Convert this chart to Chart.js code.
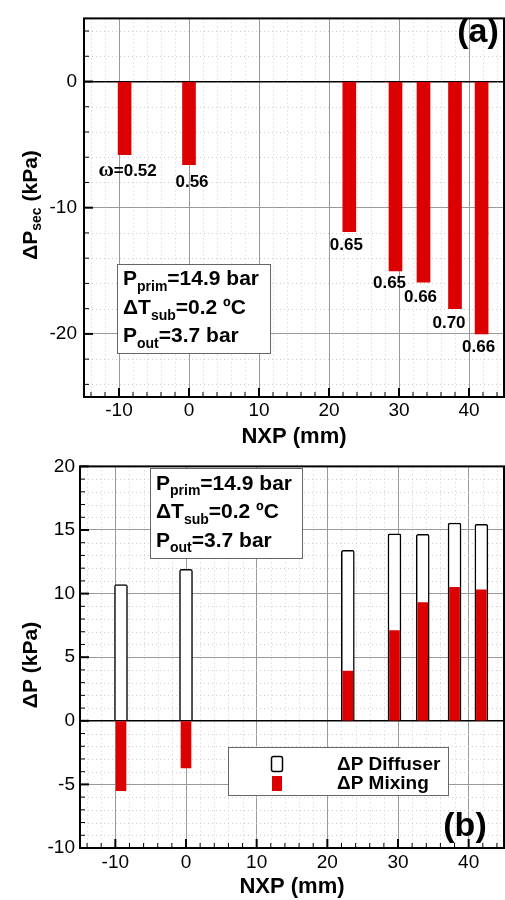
<!DOCTYPE html>
<html>
<head>
<meta charset="utf-8">
<script src="https://cdn.jsdelivr.net/npm/chart.js"></script>
<style>
  html, body { margin: 0; padding: 0; background: #fff; }
  .panel { position: relative; width: 505px; height: 450px; }
</style>
</head>
<body>
<div class="panel"><canvas id="chartA"></canvas></div>
<div class="panel"><canvas id="chartB"></canvas></div>
<script>
// nozzle exit position of each test (mm)
const nxp = [-9.2, 0, 22.9, 29.5, 33.5, 38, 41.8];
// (a) suction pressure drop, kPa
const dpSec = [-5.8, -6.6, -11.9, -15.0, -15.9, -18.0, -20.0];
// entrainment ratio written under each bar
const omega = [0.52, 0.56, 0.65, 0.65, 0.66, 0.70, 0.66];
// (b) pressure lift split in diffuser and mixing section, kPa
const dpDiffuser = [10.7, 11.9, 13.4, 14.7, 14.65, 15.55, 15.45];
const dpMixing = [-5.5, -3.7, 3.9, 7.1, 9.3, 10.5, 10.3];

const xTicks = [-10, 0, 10, 20, 30, 40];
const yTicksA = [-20, -10, 0];
const yTicksB = [-10, -5, 0, 5, 10, 15, 20];

// operating conditions: [symbol, subscript, rest]
const conditions = [
  ['P', 'prim', '=14.9 bar'],
  ['\u0394T', 'sub', '=0.2 \u00baC'],
  ['P', 'out', '=3.7 bar']
];

const FONT = '"Liberation Sans", Arial, Helvetica, sans-serif';
const RED = '#dd0000';

// draw text made of parts [{t, size, dy}] starting at x
function drawParts(ctx, parts, x, y) {
  parts.forEach(p => {
    ctx.font = `bold ${p.size}px ${FONT}`;
    ctx.fillText(p.t, x, y + (p.dy || 0));
    x += ctx.measureText(p.t).width;
  });
}

function partsWidth(ctx, parts) {
  let w = 0;
  parts.forEach(p => {
    ctx.font = `bold ${p.size}px ${FONT}`;
    w += ctx.measureText(p.t).width;
  });
  return w;
}

function subParts(main, sub, rest, size) {
  return [
    { t: main, size },
    { t: sub, size: Math.round(size * 0.65), dy: size * 0.28 },
    { t: rest, size }
  ];
}

function drawConditions(ctx, box, size) {
  ctx.save();
  ctx.fillStyle = '#fff';
  ctx.fillRect(box.x, box.y, box.w, box.h);
  ctx.strokeStyle = '#666';
  ctx.lineWidth = 1;
  ctx.strokeRect(box.x + 0.5, box.y + 0.5, box.w, box.h);
  ctx.fillStyle = '#000';
  ctx.textBaseline = 'alphabetic';
  ctx.textAlign = 'left';
  conditions.forEach((row, i) => {
    drawParts(ctx, subParts(row[0], row[1], row[2], size), box.x + 6, box.y + box.h * 0.24 + i * 28.5);
  });
  ctx.restore();
}

function drawYTitle(ctx, parts, cx, cy) {
  ctx.save();
  ctx.translate(cx, cy);
  ctx.rotate(-Math.PI / 2);
  ctx.fillStyle = '#000';
  ctx.textBaseline = 'middle';
  ctx.textAlign = 'left';
  drawParts(ctx, parts, -partsWidth(ctx, parts) / 2, 0);
  ctx.restore();
}

// minor dotted grid, inward tick marks and frame
const axisDecor = {
  id: 'axisDecor',
  beforeDatasetsDraw(chart, args, o) {
    const { ctx, chartArea: a, scales: { x, y } } = chart;
    ctx.save();
    ctx.strokeStyle = '#cfcfcf';
    ctx.lineWidth = 1;
    ctx.setLineDash([1, 3]);
    for (let v = Math.ceil(x.min / o.xMinor) * o.xMinor; v <= x.max; v += o.xMinor) {
      if (v % o.xMajor === 0) continue;
      const px = Math.round(x.getPixelForValue(v)) + 0.5;
      ctx.beginPath(); ctx.moveTo(px, a.top); ctx.lineTo(px, a.bottom); ctx.stroke();
    }
    for (let v = Math.ceil(y.min / o.yMinor) * o.yMinor; v <= y.max; v += o.yMinor) {
      if (v % o.yMajor === 0) continue;
      const py = Math.round(y.getPixelForValue(v)) + 0.5;
      ctx.beginPath(); ctx.moveTo(a.left, py); ctx.lineTo(a.right, py); ctx.stroke();
    }
    ctx.restore();
  },
  afterDatasetsDraw(chart, args, o) {
    const { ctx, chartArea: a, scales: { x, y } } = chart;
    ctx.save();
    ctx.strokeStyle = '#000';
    for (let v = Math.ceil(x.min / o.xMinor) * o.xMinor; v <= x.max; v += o.xMinor) {
      const major = v % o.xMajor === 0;
      const px = x.getPixelForValue(v);
      ctx.lineWidth = major ? 2 : 1;
      ctx.beginPath(); ctx.moveTo(px, a.bottom); ctx.lineTo(px, a.bottom - (major ? 9 : 5)); ctx.stroke();
    }
    for (let v = Math.ceil(y.min / o.yMinor) * o.yMinor; v <= y.max; v += o.yMinor) {
      const major = v % o.yMajor === 0;
      const py = y.getPixelForValue(v);
      ctx.lineWidth = major ? 2 : 1;
      ctx.beginPath(); ctx.moveTo(a.left, py); ctx.lineTo(a.left + (major ? 9 : 5), py); ctx.stroke();
    }
    ctx.lineWidth = 2;
    ctx.strokeRect(a.left, a.top, a.right - a.left, a.bottom - a.top);
    ctx.restore();
  }
};

function baseScales(yMin, yMax, yTicks, yWidth, xHeight, yPad, xPad) {
  const tickFont = { size: 19, family: FONT };
  return {
    x: {
      type: 'linear', min: -15, max: 45, offset: false,
      afterBuildTicks: s => { s.ticks = xTicks.map(v => ({ value: v })); },
      afterFit: s => { s.height = xHeight; },
      ticks: { font: tickFont, color: '#000', padding: xPad, maxRotation: 0 },
      grid: { color: '#9a9a9a', lineWidth: 1, drawTicks: false, offset: false },
      border: { display: false },
      title: { display: true, text: 'NXP (mm)', color: '#000', padding: 0,
               font: { size: 22, weight: 'bold', family: FONT } }
    },
    y: {
      min: yMin, max: yMax,
      afterBuildTicks: s => { s.ticks = yTicks.map(v => ({ value: v })); },
      afterFit: s => { s.width = yWidth; },
      ticks: { font: tickFont, color: '#000', padding: yPad },
      grid: {
        color: c => (c.tick && c.tick.value === 0 ? '#000' : '#9a9a9a'),
        lineWidth: c => (c.tick && c.tick.value === 0 ? 1.5 : 1),
        drawTicks: false
      },
      border: { display: false }
    }
  };
}

// panel (a) texts
const panelA = {
  id: 'panelA',
  afterDraw(chart) {
    const { ctx } = chart;
    const meta = chart.getDatasetMeta(0);
    // [dx, dy] of each omega label from the bar end
    const shift = [[3, 17], [3, 18], [-3, 14], [-6, 13], [-3, 15], [-6, 15], [-3, 13]];
    ctx.save();
    ctx.fillStyle = '#000';
    ctx.textBaseline = 'middle';
    meta.data.forEach((bar, i) => {
      const txt = omega[i].toFixed(2);
      const cx = bar.x + shift[i][0];
      const cy = bar.y + shift[i][1];
      if (i === 0) {
        ctx.font = `bold 17px ${FONT}`;
        const rest = '=' + txt;
        const wr = ctx.measureText(rest).width;
        ctx.font = `bold 21px "Liberation Serif", "DejaVu Serif", serif`;
        const wo = ctx.measureText('\u03c9').width;
        const x0 = cx - (wr + wo) / 2;
        ctx.textAlign = 'left';
        ctx.fillText('\u03c9', x0, cy - 1);
        ctx.font = `bold 17px ${FONT}`;
        ctx.fillText(rest, x0 + wo, cy);
      } else {
        ctx.font = `bold 17px ${FONT}`;
        ctx.textAlign = 'center';
        ctx.fillText(txt, cx, cy);
      }
    });
    ctx.font = `bold 34px ${FONT}`;
    ctx.textAlign = 'center';
    ctx.fillText('(a)', 478, 33);
    ctx.restore();
    drawConditions(ctx, { x: 117, y: 264, w: 153, h: 89 }, 21);
    drawYTitle(ctx, subParts('\u0394P', 'sec', ' (kPa)', 21), 31, 205);
  }
};

// panel (b) texts and legend
const panelB = {
  id: 'panelB',
  afterDraw(chart) {
    const { ctx } = chart;
    drawConditions(ctx, { x: 150, y: 18, w: 152, h: 90 }, 21);
    drawYTitle(ctx, [{ t: '\u0394P (kPa)', size: 21 }], 31, 215);
    const diff = chart.data.datasets[1];
    const mix = chart.data.datasets[0];
    ctx.save();
    ctx.fillStyle = '#fff';
    ctx.fillRect(228, 297, 220, 48);
    ctx.strokeStyle = '#666';
    ctx.lineWidth = 1;
    ctx.strokeRect(228.5, 297.5, 220, 48);
    ctx.beginPath();
    ctx.roundRect(271.5, 306.5, 11, 15, 2);
    ctx.fillStyle = diff.backgroundColor;
    ctx.fill();
    ctx.strokeStyle = diff.borderColor;
    ctx.lineWidth = 1.5;
    ctx.stroke();
    ctx.fillStyle = mix.backgroundColor;
    ctx.fillRect(272, 326, 10, 15);
    ctx.fillStyle = '#000';
    ctx.font = `bold 19px ${FONT}`;
    ctx.textAlign = 'left';
    ctx.textBaseline = 'alphabetic';
    ctx.fillText(diff.label, 337, 320);
    ctx.fillText(mix.label, 337, 339);
    ctx.font = `bold 34px ${FONT}`;
    ctx.textAlign = 'center';
    ctx.textBaseline = 'middle';
    ctx.fillText('(b)', 465, 377);
    ctx.restore();
  }
};

new Chart(document.getElementById('chartA'), {
  type: 'bar',
  data: {
    datasets: [{
      label: '\u0394P sec',
      data: nxp.map((v, i) => ({ x: v, y: dpSec[i] })),
      backgroundColor: RED,
      borderWidth: 0,
      barThickness: 13
    }]
  },
  options: {
    responsive: true,
    maintainAspectRatio: false,
    animation: false,
    layout: { padding: { top: 13, right: 1, left: 0, bottom: 0 } },
    plugins: {
      legend: { display: false },
      tooltip: { enabled: false },
      axisDecor: { xMinor: 2, xMajor: 10, yMinor: 2, yMajor: 10 }
    },
    scales: baseScales(-25, 5, yTicksA, 84, 53, 7, 2)
  },
  plugins: [axisDecor, panelA]
});

new Chart(document.getElementById('chartB'), {
  type: 'bar',
  data: {
    datasets: [
      {
        label: '\u0394P Mixing',
        data: nxp.map((v, i) => ({ x: v, y: dpMixing[i] })),
        backgroundColor: RED,
        borderWidth: 0,
        barThickness: 10,
        grouped: false,
        order: 0
      },
      {
        label: '\u0394P Diffuser',
        data: nxp.map((v, i) => ({ x: v, y: dpDiffuser[i] })),
        backgroundColor: '#fff',
        borderColor: '#000',
        borderWidth: 1.5,
        borderRadius: 2,
        barThickness: 13,
        grouped: false,
        order: 1
      }
    ]
  },
  options: {
    responsive: true,
    maintainAspectRatio: false,
    animation: false,
    layout: { padding: { top: 11, right: 1, left: 0, bottom: 0 } },
    plugins: {
      legend: { display: false },
      tooltip: { enabled: false },
      axisDecor: { xMinor: 2, xMajor: 10, yMinor: 1, yMajor: 5 }
    },
    scales: baseScales(-10, 20, yTicksB, 80, 52, 5, 3)
  },
  plugins: [axisDecor, panelB]
});
</script>
</body>
</html>
